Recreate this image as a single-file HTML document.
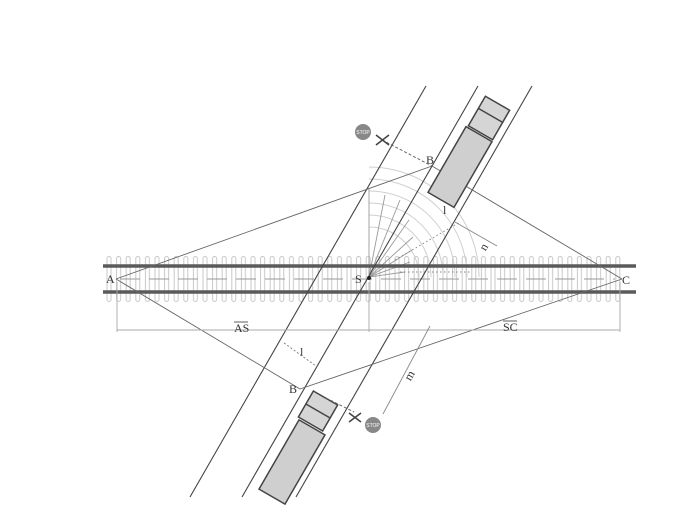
<!DOCTYPE html>
<html><head><meta charset="utf-8"><style>
html,body{margin:0;padding:0;background:#fff;}
svg{display:block;font-family:"Liberation Serif",serif;}
</style></head><body>
<svg width="685" height="514" viewBox="0 0 685 514" xmlns="http://www.w3.org/2000/svg">
<defs>
<pattern id="ties" x="106" y="256" width="9.6" height="46" patternUnits="userSpaceOnUse">
<rect x="1" y="0.5" width="4" height="45" rx="2" fill="none" stroke="#c8c8c8" stroke-width="1"/>
</pattern>
</defs>
<rect x="104" y="256" width="520" height="46" fill="url(#ties)"/>
<g fill="none" stroke="#cfcfcf" stroke-width="1">
<path d="M419 277 A50 50 0 0 0 369 227"/>
<path d="M431 277 A62 62 0 0 0 369 215"/>
<path d="M443 277 A74 74 0 0 0 369 203"/>
<path d="M455 277 A86 86 0 0 0 369 191"/>
<path d="M467 277 A98 98 0 0 0 369 179"/>
<path d="M479 277 A110 110 0 0 0 369 167"/>
</g>
<g stroke="#9a9a9a" stroke-width="0.9">
<line x1="369" y1="277" x2="369" y2="188"/>
<line x1="369" y1="277" x2="385" y2="195"/>
<line x1="369" y1="277" x2="400" y2="200"/>
<line x1="369" y1="277" x2="409" y2="220"/>
<line x1="369" y1="277" x2="413" y2="237"/>
<line x1="369" y1="277" x2="412" y2="250"/>
<line x1="369" y1="277" x2="410" y2="262"/>
<line x1="369" y1="277" x2="405" y2="272"/>
</g>
<g stroke="#888" stroke-width="1" stroke-dasharray="1.5 2.5">
<line x1="395" y1="260" x2="460" y2="222"/>
<line x1="400" y1="272" x2="470" y2="272"/>
</g>
<line x1="103" y1="266" x2="636" y2="266" stroke="#5a5a5a" stroke-width="3.5"/>
<line x1="103" y1="292" x2="636" y2="292" stroke="#5a5a5a" stroke-width="3.5"/>
<line x1="120" y1="279" x2="615" y2="279" stroke="#999" stroke-width="1" stroke-dasharray="20 9"/>
<g stroke="#444" stroke-width="1.1">
<line x1="190" y1="497" x2="426" y2="86"/>
<line x1="242" y1="497" x2="478" y2="86"/>
<line x1="296" y1="497" x2="532" y2="86"/>
</g>
<g stroke="#666" stroke-width="0.9" fill="none">
<line x1="116" y1="279" x2="432" y2="166"/>
<line x1="432" y1="166" x2="622" y2="279"/>
<line x1="116" y1="279" x2="300" y2="389"/>
<line x1="300" y1="389" x2="622" y2="279"/>
</g>
<g stroke="#aaa" stroke-width="0.9">
<line x1="117" y1="282" x2="117" y2="332"/>
<line x1="369" y1="282" x2="369" y2="332"/>
<line x1="620" y1="282" x2="620" y2="332"/>
<line x1="117" y1="330" x2="620" y2="330"/>
</g>
<g font-size="12" fill="#333">
<text x="234" y="332">AS</text>
<line x1="234" y1="322" x2="248" y2="322" stroke="#333" stroke-width="0.8"/>
<text x="503" y="331">SC</text>
<line x1="503" y1="321" x2="517" y2="321" stroke="#333" stroke-width="0.8"/>
<text x="106" y="283">A</text>
<text x="622" y="284">C</text>
<text x="355" y="283">S</text>
<text x="426" y="164">B</text>
<text x="289" y="393">B</text>
<text x="300" y="356">l</text>
<text x="443" y="214">l</text>
<text x="480" y="250" transform="rotate(-60 484 246)">n</text>
<text x="405" y="380" transform="rotate(-60 409 376)">m</text>
</g>
<circle cx="369" cy="278" r="2" fill="#222"/>
<g stroke="#777" stroke-width="0.9" stroke-dasharray="2 2">
<line x1="284" y1="343" x2="316" y2="366"/>
</g>
<g stroke="#888" stroke-width="0.9">
<line x1="455" y1="222" x2="497" y2="246"/>
<line x1="430" y1="326" x2="383" y2="414"/>
</g>
<g transform="rotate(30 460 167)">
<rect x="445" y="129" width="30" height="76" fill="#cfcfcf" stroke="#444" stroke-width="1.5"/>
</g>
<g transform="rotate(30 489 118)">
<rect x="475" y="101" width="28" height="34" fill="#d5d5d5" stroke="#444" stroke-width="1.5"/>
<line x1="475" y1="115" x2="503" y2="115" stroke="#444" stroke-width="1.5"/>
</g>
<g transform="rotate(30 292 462)">
<rect x="277" y="422" width="30" height="80" fill="#cfcfcf" stroke="#444" stroke-width="1.5"/>
</g>
<g transform="rotate(30 318 411)">
<rect x="304" y="396" width="28" height="30" fill="#d5d5d5" stroke="#444" stroke-width="1.5"/>
<line x1="304" y1="411" x2="332" y2="411" stroke="#444" stroke-width="1.5"/>
</g>
<g stroke="#666" stroke-width="1" stroke-dasharray="3 2">
<line x1="382" y1="140" x2="432" y2="166"/>
<line x1="326" y1="398" x2="354" y2="412"/>
</g>
<g stroke="#444" stroke-width="1.6">
<line x1="376" y1="135" x2="389" y2="145"/><line x1="376" y1="145" x2="389" y2="135"/>
<line x1="349" y1="413" x2="361" y2="422"/><line x1="349" y1="422" x2="361" y2="413"/>
</g>
<circle cx="363" cy="132" r="8" fill="#888"/>
<circle cx="373" cy="425" r="8" fill="#888"/>
<text x="363" y="134" font-size="5" fill="#fff" text-anchor="middle" font-family="Liberation Sans,sans-serif">STOP</text>
<text x="373" y="427" font-size="5" fill="#fff" text-anchor="middle" font-family="Liberation Sans,sans-serif">STOP</text>
</svg>
</body></html>
